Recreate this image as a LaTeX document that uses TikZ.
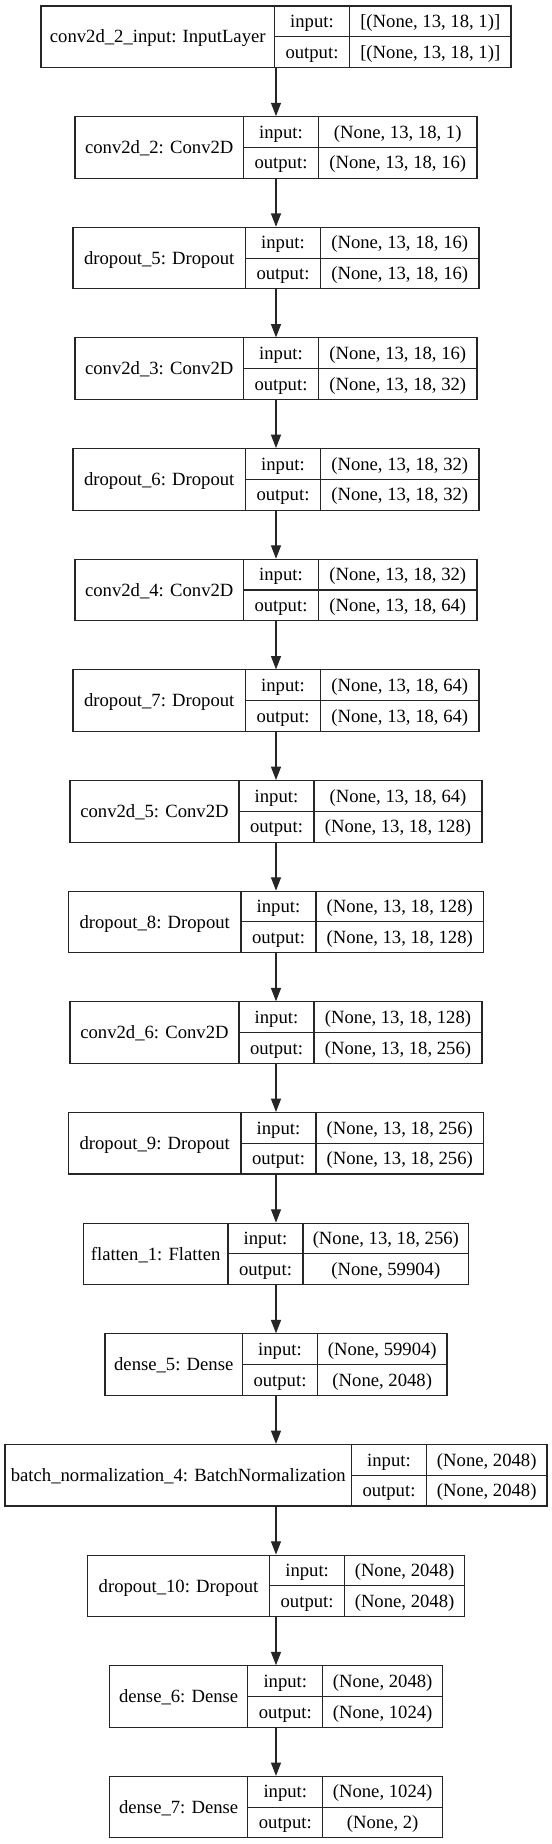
\documentclass[tikz,border=0pt]{standalone}
\usepackage{fontspec}
\setmainfont{Liberation Serif}
\usetikzlibrary{arrows.meta}
\newfontfamily\lbfont{Liberation Serif}
\tikzset{
  box/.style={draw=black!85, line width=0.8pt, inner sep=0pt, rectangle},
  cellline/.style={draw=black!85, line width=0.8pt},
  lbl/.style={anchor=base, inner sep=0pt, font=\lbfont\fontsize{14pt}{16pt}\selectfont},
  arr/.style={draw=black!85, line width=0.9pt, -{Triangle[length=10pt,width=7.5pt]}}
}
\newcommand\kerasbox[6]{%
  \pgfmathsetmacro\kT{6+110.65*(#1-1)}%
  \pgfmathsetmacro\kB{\kT+61.5}%
  \pgfmathsetmacro\kM{\kT+30.75}%
  \pgfmathsetmacro\kL{276-#2/2}%
  \pgfmathsetmacro\kR{276+#2/2}%
  \pgfmathsetmacro\kS{#3+75}%
  \node[box, minimum width=#2*0.75pt, minimum height=61.5*0.75pt] (b#1) at (276,\kM) {};
  \draw[cellline] (#3,\kT) -- (#3,\kB);
  \draw[cellline] (\kS,\kT) -- (\kS,\kB);
  \draw[cellline] (#3,\kM) -- (\kR,\kM);
  \node[lbl] (n#1) at ({(\kL+#3)/2},{\kM+6.2}) {#4};
  \node[lbl] (i#1) at ({#3+37.5},{\kM-15.375+6.2}) {input:};
  \node[lbl] (o#1) at ({#3+37.5},{\kM+15.375+6.2}) {output:};
  \node[lbl] (v#1) at ({(\kS+\kR)/2},{\kM-15.375+6.2}) {#5};
  \node[lbl] (w#1) at ({(\kS+\kR)/2},{\kM+15.375+6.2}) {#6};
}
\begin{document}
\begin{tikzpicture}[x=0.75pt,y=-0.75pt]
\useasboundingbox (0,0) rectangle (552,1844);
\kerasbox{1}{470}{274.5}{conv2d\_2\_input: InputLayer}{[(None, 13, 18, 1)]}{[(None, 13, 18, 1)]}
\kerasbox{2}{402}{243.5}{conv2d\_2: Conv2D}{(None, 13, 18, 1)}{(None, 13, 18, 16)}
\kerasbox{3}{406}{245.5}{dropout\_5: Dropout}{(None, 13, 18, 16)}{(None, 13, 18, 16)}
\kerasbox{4}{402}{243.5}{conv2d\_3: Conv2D}{(None, 13, 18, 16)}{(None, 13, 18, 32)}
\kerasbox{5}{406}{245.5}{dropout\_6: Dropout}{(None, 13, 18, 32)}{(None, 13, 18, 32)}
\kerasbox{6}{402}{243.5}{conv2d\_4: Conv2D}{(None, 13, 18, 32)}{(None, 13, 18, 64)}
\kerasbox{7}{406}{245.5}{dropout\_7: Dropout}{(None, 13, 18, 64)}{(None, 13, 18, 64)}
\kerasbox{8}{412}{239}{conv2d\_5: Conv2D}{(None, 13, 18, 64)}{(None, 13, 18, 128)}
\kerasbox{9}{415}{241}{dropout\_8: Dropout}{(None, 13, 18, 128)}{(None, 13, 18, 128)}
\kerasbox{10}{412}{239}{conv2d\_6: Conv2D}{(None, 13, 18, 128)}{(None, 13, 18, 256)}
\kerasbox{11}{415}{241}{dropout\_9: Dropout}{(None, 13, 18, 256)}{(None, 13, 18, 256)}
\kerasbox{12}{385.4}{228}{flatten\_1: Flatten}{(None, 13, 18, 256)}{(None, 59904)}
\kerasbox{13}{342}{242.5}{dense\_5: Dense}{(None, 59904)}{(None, 2048)}
\kerasbox{14}{542}{351.5}{batch\_normalization\_4: BatchNormalization}{(None, 2048)}{(None, 2048)}
\kerasbox{15}{377}{269.6}{dropout\_10: Dropout}{(None, 2048)}{(None, 2048)}
\kerasbox{16}{333}{247.8}{dense\_6: Dense}{(None, 2048)}{(None, 1024)}
\kerasbox{17}{333}{247.8}{dense\_7: Dense}{(None, 1024)}{(None, 2)}
\foreach \i [evaluate=\i as \j using int(\i+1)] in {1,...,16}
  \draw[arr] (b\i.south) -- (b\j.north);
\end{tikzpicture}
\end{document}
